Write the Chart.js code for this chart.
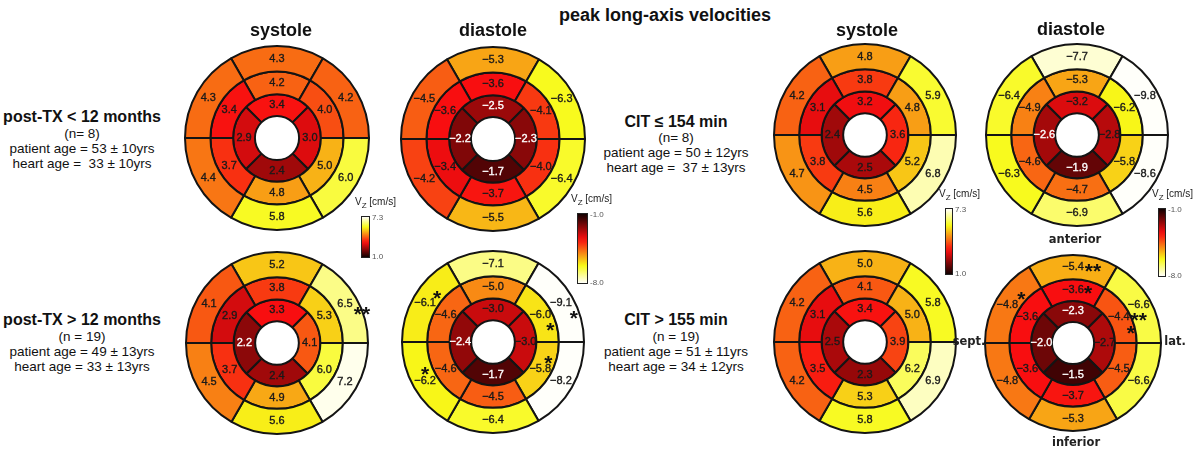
<!DOCTYPE html>
<html>
<head>
<meta charset="utf-8">
<script src="https://cdn.jsdelivr.net/npm/chart.js@4.4.1/dist/chart.umd.min.js"></script>
<style>
  body { margin: 0; background: #fff; font-family: "Liberation Sans", Arial, sans-serif; }
  #page { position: relative; width: 1200px; height: 452px; overflow: hidden; }
  .t { position: absolute; transform: translate(-50%, -50%); white-space: pre; color: #111; line-height: 1; }
  .info { font-size: 13.5px; }
  .grp { font-size: 16px; font-weight: bold; }
  .hdr { font-size: 18px; font-weight: bold; }
  .orient { font-family: "DejaVu Sans", sans-serif; font-weight: bold; font-size: 11.5px; color: #222; }
  .bull { position: absolute; }
  .cbar { position: absolute; border: 1px solid #222; box-sizing: border-box; }
  .tick { position: absolute; font-size: 8px; color: #555; transform: translateY(-50%); line-height: 1; }
  .vz { position: absolute; font-size: 10px; color: #222; white-space: pre; transform: translateY(-50%); line-height: 1; }
  .vz sub { font-size: 8px; vertical-align: -3px; }
</style>
</head>
<body>
<div id="page"></div>
<script>
// segment order in every array: basal ring (6, clockwise from anterior/top),
// mid ring (6, clockwise from top), apical ring (4: top, right, bottom, left)
const earlySys    = [4.3, 4.2, 6.0, 5.8, 4.4, 4.3,   4.2, 4.0, 5.0, 4.8, 3.7, 3.4,   3.4, 3.0, 2.4, 2.9];
const earlyDia    = [-5.3, -6.3, -6.4, -5.5, -4.2, -4.5,   -3.6, -4.1, -4.0, -3.7, -3.4, -3.6,   -2.5, -2.3, -1.7, -2.2];
const lateSys     = [5.2, 6.5, 7.2, 5.6, 4.5, 4.1,   3.8, 5.3, 6.0, 4.9, 3.7, 2.9,   3.3, 4.1, 2.4, 2.2];
const lateDia     = [-7.1, -9.1, -8.2, -6.4, -6.2, -6.1,   -5.0, -6.0, -5.8, -4.5, -4.6, -4.6,   -3.0, -3.0, -1.7, -2.4];
const shortCitSys = [4.8, 5.9, 6.8, 5.6, 4.7, 4.2,   3.8, 4.8, 5.2, 4.5, 3.8, 3.1,   3.2, 3.6, 2.5, 2.4];
const shortCitDia = [-7.7, -9.8, -8.6, -6.9, -6.3, -6.4,   -5.3, -6.2, -5.8, -4.7, -4.6, -4.9,   -3.2, -2.8, -1.9, -2.6];
const longCitSys  = [5.0, 5.8, 6.9, 5.8, 4.2, 4.2,   4.1, 5.0, 6.2, 5.3, 3.5, 3.1,   3.4, 3.9, 2.3, 2.5];
const longCitDia  = [-5.4, -6.6, -6.6, -5.3, -4.8, -4.8,   -3.6, -4.4, -4.5, -3.7, -3.6, -3.6,   -2.3, -2.7, -1.5, -2.0];

// significance marks (same segment order)
const lateSysStars = ['', '**', '', '', '', '',   '', '', '', '', '', '',   '', '', '', ''];
const lateDiaStars = ['', '*', '', '', '*', '*',   '', '*', '*', '', '', '',   '', '', '', ''];
const longCitDiaStars = ['**', '**', '', '', '', '*',   '*', '*', '', '', '', '',   '', '', '', ''];

// colour scale limits
const sysRange = [1.0, 7.3];
const diaRange = [-1.0, -8.0];

// where each star sits relative to its number (dx, dy in px)
const starOffset = {
  lateSys: { 1: [17, 5] },
  lateDia: { 1: [13, 10], 4: [0, -12], 5: [12, -10], 7: [10, 11], 8: [8, -11] },
  longCitDia: { 0: [20, -1], 1: [0, 10], 5: [14, -11], 6: [15, -2], 7: [12, 12] }
};

const page = document.getElementById('page');

// MATLAB style "hot" map, slightly softened like the printed figure
function hot(t) {
  t = Math.max(0, Math.min(1, t));
  const r = Math.min(1, 1 / 24 + t / 0.375);
  const g = Math.max(0, Math.min(1, (t - 0.375) / 0.375));
  const b = Math.max(0, Math.min(1, (t - 0.75) / 0.25));
  const R = Math.round(8 + 240 * r + 7 * b);
  const G = Math.round(14 * r + 236 * g + 5 * b);
  const B = Math.round(16 * r + 8 * g + 226 * b);
  return 'rgb(' + R + ',' + G + ',' + B + ')';
}
function tOf(v, range) { return (v - range[0]) / (range[1] - range[0]); }

function fmt(v) { return v < 0 ? '\u2212' + Math.abs(v).toFixed(1) : v.toFixed(1); }

const segLabels = {
  id: 'segLabels',
  afterDatasetsDraw(chart) {
    const ctx = chart.ctx;
    const cfg = chart.config.options.plugins.segLabels;
    ctx.save();
    ctx.textAlign = 'center';
    ctx.textBaseline = 'middle';
    chart.data.datasets.forEach((ds, k) => {
      chart.getDatasetMeta(k).data.forEach((arc, i) => {
        const p = arc.tooltipPosition();
        const v = ds.vals[i];
        const whiteText = cfg.sys ? v < 2.25 : v > -2.65;
        ctx.font = '11px "Liberation Sans", Arial, sans-serif';
        ctx.fillStyle = whiteText ? '#ffffff' : '#1a1a1a';
        ctx.strokeStyle = ctx.fillStyle;
        ctx.lineWidth = 0.35;
        ctx.fillText(fmt(v), p.x, p.y);
        ctx.strokeText(fmt(v), p.x, p.y);
        const idx = ds.first + i;
        const s = cfg.stars ? cfg.stars[idx] : '';
        if (s) {
          const off = (cfg.starOff && cfg.starOff[idx]) || [16, 0];
          ctx.font = 'bold 21px "Liberation Sans", Arial, sans-serif';
          ctx.fillStyle = '#111';
          ctx.fillText(s, p.x + off[0], p.y + off[1] + 6);
        }
      });
    });
    ctx.restore();
  }
};

function bullseye(values, range, stars, starOff, cx, cy, r) {
  const pad = 14;
  const size = 2 * r + 2 + 2 * pad;
  const div = document.createElement('div');
  div.className = 'bull';
  div.style.left = (cx - size / 2) + 'px';
  div.style.top = (cy - size / 2) + 'px';
  const cv = document.createElement('canvas');
  cv.width = size; cv.height = size;
  cv.style.width = size + 'px'; cv.style.height = size + 'px';
  div.appendChild(cv);
  page.appendChild(div);

  const rings = [values.slice(0, 6), values.slice(6, 12), values.slice(12, 16)];
  const firsts = [0, 6, 12];
  new Chart(cv, {
    type: 'doughnut',
    data: {
      datasets: rings.map((ring, k) => ({
        data: ring.map(() => 1),
        vals: ring,
        first: firsts[k],
        backgroundColor: ring.map(v => hot(tOf(v, range))),
        rotation: k < 2 ? -30 : -45,
        weight: [1.12, 1, 0.96][k]
      }))
    },
    options: {
      responsive: false,
      animation: false,
      events: [],
      cutout: '24%',
      layout: { padding: pad },
      elements: { arc: { borderWidth: 2, borderColor: '#141414' } },
      plugins: {
        legend: { display: false },
        tooltip: { enabled: false },
        segLabels: { sys: range[0] > 0, stars: stars, starOff: starOff }
      }
    },
    plugins: [segLabels]
  });
}

function text(str, cls, x, y) {
  const d = document.createElement('div');
  d.className = 't ' + cls;
  d.textContent = str;
  d.style.left = x + 'px';
  d.style.top = y + 'px';
  page.appendChild(d);
}

function colorbar(range, x, y, w, h, topLbl, botLbl) {
  const n = 12;
  const stops = [];
  for (let i = 0; i <= n; i++) {
    // systole bars run white (top) to black; diastole bars black (top) to white
    const frac = i / n;
    const t = range[0] > 0 ? 1 - frac : frac;
    stops.push(hot(t) + ' ' + (frac * 100).toFixed(1) + '%');
  }
  const b = document.createElement('div');
  b.className = 'cbar';
  b.style.left = x + 'px'; b.style.top = y + 'px';
  b.style.width = w + 'px'; b.style.height = h + 'px';
  b.style.background = 'linear-gradient(to bottom, ' + stops.join(', ') + ')';
  page.appendChild(b);

  const lab = document.createElement('div');
  lab.className = 'vz';
  lab.innerHTML = 'V<sub>Z</sub> [cm/s]';
  lab.style.left = (x - 6) + 'px';
  lab.style.top = (y - 13) + 'px';
  page.appendChild(lab);

  [[topLbl, y + 2], [botLbl, y + h - 1]].forEach(([s, ty]) => {
    const tk = document.createElement('div');
    tk.className = 'tick';
    tk.textContent = s;
    tk.style.left = (x + w + 2) + 'px';
    tk.style.top = ty + 'px';
    page.appendChild(tk);
  });
}

// bullseyes
bullseye(earlySys, sysRange, null, null, 277, 138, 92);
bullseye(earlyDia, diaRange, null, null, 493, 139, 92);
bullseye(lateSys, sysRange, lateSysStars, starOffset.lateSys, 277, 343, 91);
bullseye(lateDia, diaRange, lateDiaStars, starOffset.lateDia, 493, 342, 91);
bullseye(shortCitSys, sysRange, null, null, 865, 135, 91);
bullseye(shortCitDia, diaRange, null, null, 1077, 135, 91);
bullseye(longCitSys, sysRange, null, null, 865, 342, 91);
bullseye(longCitDia, diaRange, longCitDiaStars, starOffset.longCitDia, 1073, 343, 88);

// headings
text('peak long-axis velocities', 'hdr', 665, 15);
text('systole', 'hdr', 281, 30);
text('diastole', 'hdr', 493, 30);
text('systole', 'hdr', 867, 30);
text('diastole', 'hdr', 1071, 29);

// group descriptions
text('post-TX < 12 months', 'grp', 82, 117);
text('(n= 8)', 'info', 82, 134);
text('patient age = 53 \u00b1 10yrs', 'info', 82, 149);
text('heart age =  33 \u00b1 10yrs', 'info', 82, 164);

text('post-TX > 12 months', 'grp', 82, 320);
text('(n = 19)', 'info', 82, 337);
text('patient age = 49 \u00b1 13yrs', 'info', 82, 352);
text('heart age = 33 \u00b1 13yrs', 'info', 82, 367);

text('CIT \u2264 154 min', 'grp', 676, 122);
text('(n= 8)', 'info', 676, 138);
text('patient age = 50 \u00b1 12yrs', 'info', 676, 153);
text('heart age =  37 \u00b1 13yrs', 'info', 676, 168);

text('CIT > 155 min', 'grp', 676, 320);
text('(n = 19)', 'info', 676, 337);
text('patient age = 51 \u00b1 11yrs', 'info', 676, 352);
text('heart age = 34 \u00b1 12yrs', 'info', 676, 367);

// orientation
text('anterior', 'orient', 1075, 240);
text('inferior', 'orient', 1076, 443);
text('sept.', 'orient', 969, 342);
text('lat.', 'orient', 1175, 342);

// colour bars
colorbar(sysRange, 361, 216, 9, 42, '7.3', '1.0');
colorbar(diaRange, 577, 213, 11, 71, '-1.0', '-8.0');
colorbar(sysRange, 945, 208, 8, 67, '7.3', '1.0');
colorbar(diaRange, 1158, 208, 8, 69, '-1.0', '-8.0');
</script>
</body>
</html>
